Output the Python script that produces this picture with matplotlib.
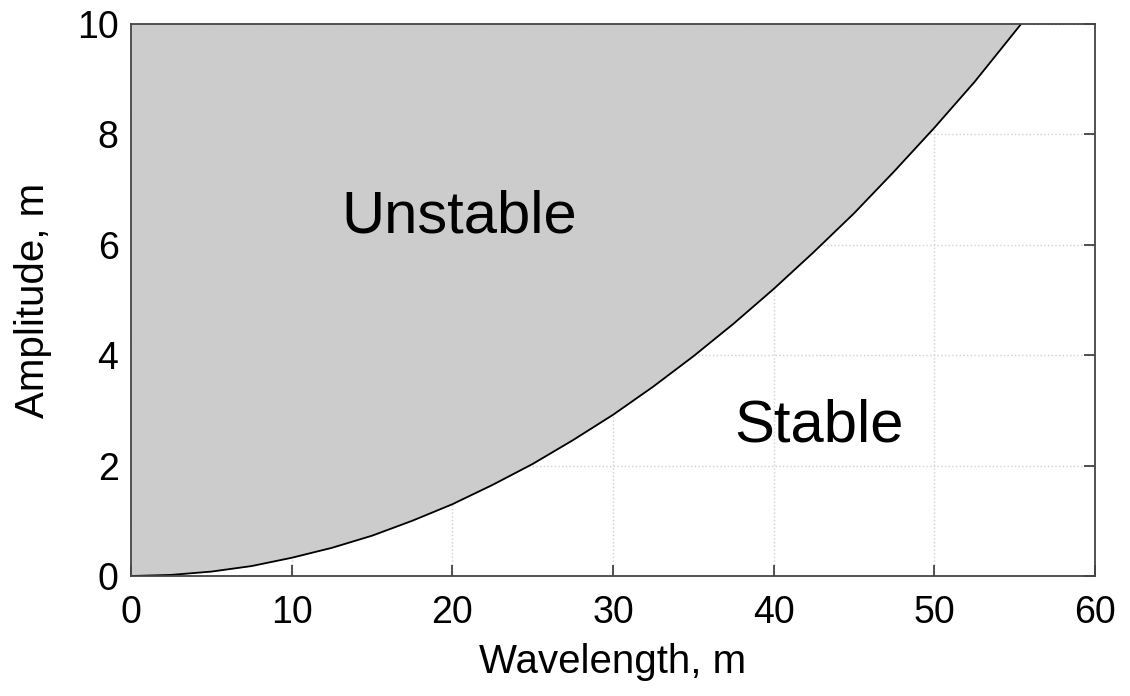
import numpy as np
import matplotlib.pyplot as plt

plt.rcParams['font.family'] = ['Liberation Sans', 'DejaVu Sans']

# stability boundary
wavelength = [0, 2.5, 5, 7.5, 10, 12.5, 15, 17.5, 20, 22.5, 25, 27.5, 30, 32.5,
              35, 37.5, 40, 42.5, 45, 47.5, 50, 52.5, 55.4]
amplitude = [0, 0.02, 0.08, 0.18, 0.33, 0.51, 0.73, 1.00, 1.30, 1.65, 2.03, 2.46,
             2.92, 3.43, 3.98, 4.57, 5.20, 5.87, 6.57, 7.33, 8.12, 8.95, 10.0]

xticks = [0, 10, 20, 30, 40, 50, 60]
yticks = [0, 2, 4, 6, 8, 10]

fig = plt.figure(figsize=(11.3, 6.96), dpi=100)
ax = fig.add_axes([131 / 1130, 1 - 576 / 696, (1095 - 131) / 1130, (576 - 24) / 696])

# light dotted grid sits under the shaded region
ax.grid(True, color='#d0d0d0', linestyle=':', linewidth=1.0, zorder=0)
ax.set_axisbelow(True)

ax.fill_between(wavelength, amplitude, 10, color='#cccccc', linewidth=0, zorder=1)
ax.plot(wavelength, amplitude, color='black', linewidth=1.3, zorder=2)

ax.text(20.4, 6.23, 'Unstable', fontsize=43, ha='center', va='baseline')
ax.text(42.8, 2.43, 'Stable', fontsize=43, ha='center', va='baseline')

ax.set_xlim(0, 60)
ax.set_ylim(0, 10)
ax.set_xticks(xticks)
ax.set_yticks(yticks)
ax.tick_params(direction='in', length=8, width=1.2, labelsize=27, color='#333333',
               top=False, right=True, left=False)
ax.tick_params(axis='x', pad=14)
ax.tick_params(axis='y', pad=9)
for s in ax.spines.values():
    s.set_color('#444444')
    s.set_linewidth(1.3)

ax.set_xlabel('Wavelength, m', fontsize=29, labelpad=8)
ax.set_ylabel('Amplitude, m', fontsize=29, labelpad=18)

fig.savefig('out.png', dpi=100)
